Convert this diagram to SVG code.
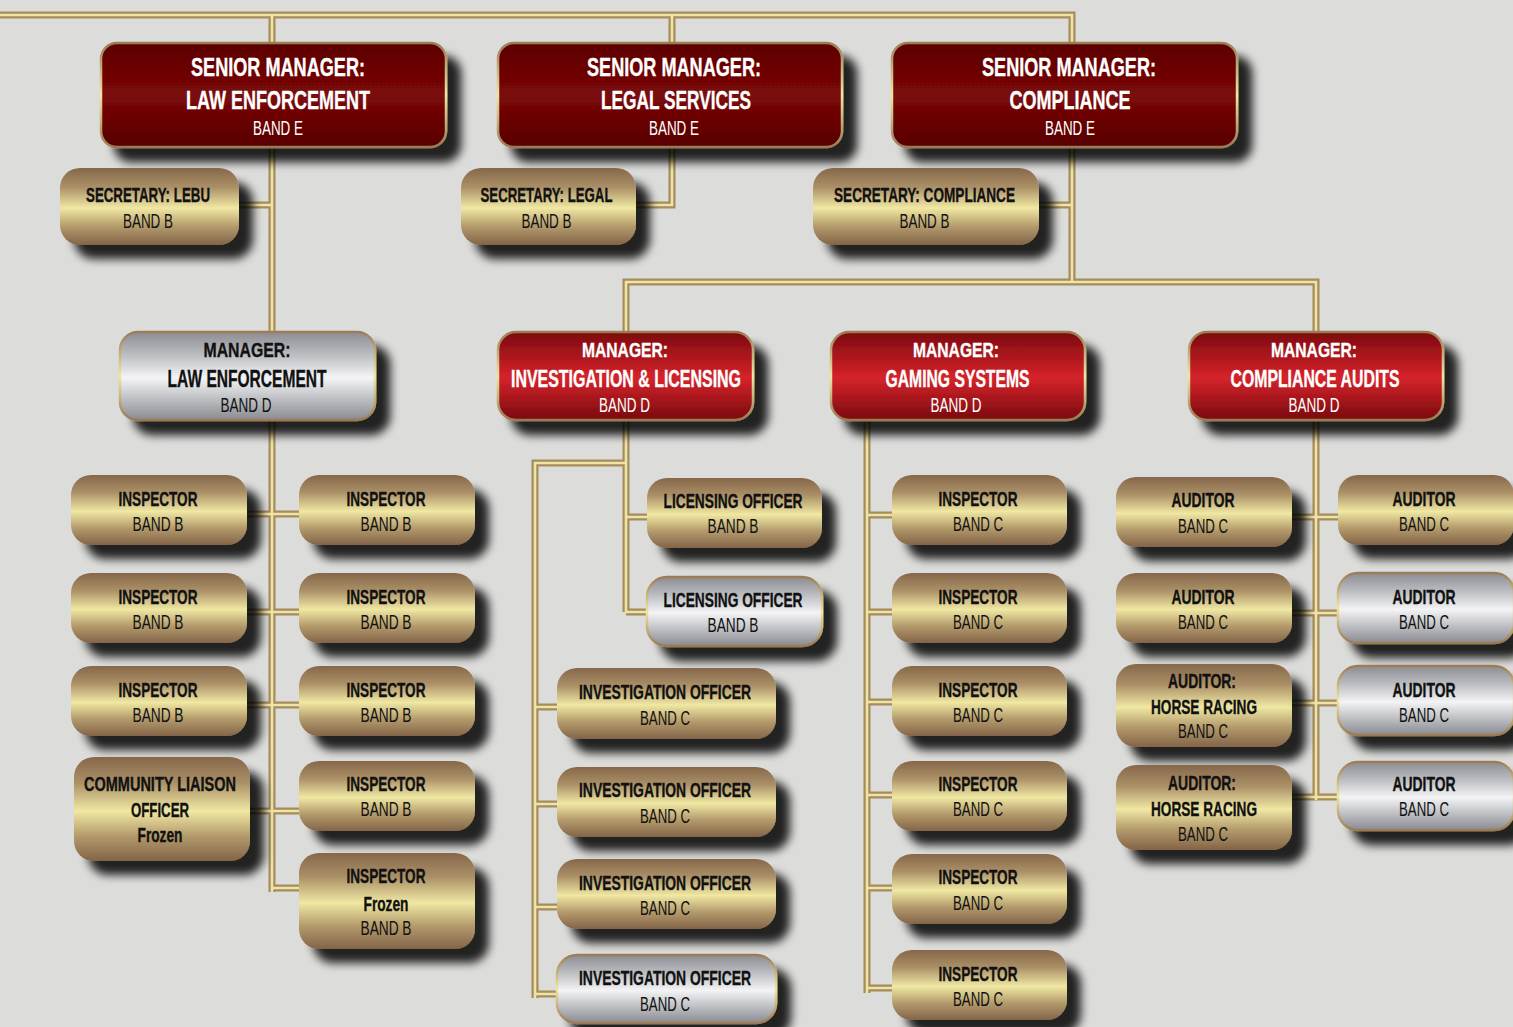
<svg xmlns="http://www.w3.org/2000/svg" xmlns:xlink="http://www.w3.org/1999/xlink" width="1513" height="1027" viewBox="0 0 1513 1027">
<defs>
<linearGradient id="gGold" x1="0" y1="0" x2="0" y2="1">
<stop offset="0" stop-color="#86674a"/><stop offset="0.25" stop-color="#ab9067"/><stop offset="0.52" stop-color="#f0e8a3"/><stop offset="0.76" stop-color="#b39a6b"/><stop offset="1" stop-color="#836448"/>
</linearGradient>
<linearGradient id="gSilver" x1="0" y1="0" x2="0" y2="1">
<stop offset="0" stop-color="#8b8d93"/><stop offset="0.25" stop-color="#b9bbbf"/><stop offset="0.52" stop-color="#f4f4f6"/><stop offset="0.76" stop-color="#bdbfc3"/><stop offset="1" stop-color="#898b91"/>
</linearGradient>
<linearGradient id="gRed" x1="0" y1="0" x2="0" y2="1">
<stop offset="0" stop-color="#7c090d"/><stop offset="0.52" stop-color="#d5232b"/><stop offset="1" stop-color="#790a0d"/>
</linearGradient>
<linearGradient id="gMaroon" x1="0" y1="0" x2="0" y2="1">
<stop offset="0" stop-color="#5c0000"/><stop offset="0.5" stop-color="#7b0808"/><stop offset="1" stop-color="#570000"/>
</linearGradient>
<linearGradient id="gEdge" x1="0" y1="0" x2="0" y2="1">
<stop offset="0" stop-color="#9c7b55"/><stop offset="0.5" stop-color="#efe6a0"/><stop offset="1" stop-color="#9a7953"/>
</linearGradient>
<filter id="sh" x="-10%" y="-20%" width="130%" height="170%">
<feGaussianBlur in="SourceAlpha" stdDeviation="5"/>
<feOffset dx="14" dy="14" result="o"/>
<feComponentTransfer><feFuncA type="linear" slope="0.85"/></feComponentTransfer>
<feMerge><feMergeNode/><feMergeNode in="SourceGraphic"/></feMerge>
</filter>
<path id="wires" d="M0,15 H1072 V282 M272,15 V892 M672,15 V205 H636 M239,205 H272 M1039,205 H1072 M626,340 V282 H1316 V800 M626,420 V612 M626,463 H535 V998 M626,517 H647 M626,612 H647 M535,707 H557 M535,804 H557 M535,907 H557 M535,994 H557 M867,420 V993 M867,515 H892 M867,612 H892 M867,702 H892 M867,795 H892 M867,888 H892 M867,988 H892 M247,514 H299 M247,612 H299 M247,705 H299 M250,811 H299 M272,888 H299 M1292,517 H1338 M1292,613 H1338 M1292,703 H1338 M1292,797 H1338"/>
</defs>
<style>
.box{filter:url(#sh)}
.gold{fill:url(#gGold)}
.silver{fill:url(#gSilver);stroke:url(#gEdge);stroke-width:2.5}
.red{fill:url(#gRed);stroke:url(#gEdge);stroke-width:2.5}
.maroon{fill:url(#gMaroon);stroke:url(#gEdge);stroke-width:2.5}
text{font-family:"Liberation Sans",Arial,sans-serif;text-anchor:middle;fill:#111}
.b{font-weight:bold;stroke:#111;stroke-width:0.35}
.w{fill:#fff}
.b.w{stroke:#fff}
.s26{font-size:26px}
.s23{font-size:23px}
.s21{font-size:21px}
.s19{font-size:19.5px}
.wo{fill:none;stroke:#a58c5c;stroke-width:7}
.wi{fill:none;stroke:#efe4a8;stroke-width:2.6}
</style>
<rect x="0" y="0" width="1513" height="1027" fill="#dcdcdb"/>

<g id="connectors">
<use xlink:href="#wires" class="wo"/>
<use xlink:href="#wires" class="wi"/>
</g>

<!-- Senior managers -->
<g id="sm-law"><rect class="box maroon" x="101" y="43" width="345" height="104" rx="16"/>
<text class="b w s26" x="278" y="76" textLength="174" lengthAdjust="spacingAndGlyphs">SENIOR MANAGER:</text>
<text class="b w s26" x="278" y="109" textLength="184" lengthAdjust="spacingAndGlyphs">LAW ENFORCEMENT</text>
<text class="w s19" x="278" y="135" textLength="50" lengthAdjust="spacingAndGlyphs">BAND E</text></g>
<g id="sm-legal"><rect class="box maroon" x="498" y="43" width="344" height="104" rx="16"/>
<text class="b w s26" x="674" y="76" textLength="174" lengthAdjust="spacingAndGlyphs">SENIOR MANAGER:</text>
<text class="b w s26" x="676" y="109" textLength="150" lengthAdjust="spacingAndGlyphs">LEGAL SERVICES</text>
<text class="w s19" x="674" y="135" textLength="50" lengthAdjust="spacingAndGlyphs">BAND E</text></g>
<g id="sm-compliance"><rect class="box maroon" x="892" y="43" width="345" height="104" rx="16"/>
<text class="b w s26" x="1069" y="76" textLength="174" lengthAdjust="spacingAndGlyphs">SENIOR MANAGER:</text>
<text class="b w s26" x="1070" y="109" textLength="121" lengthAdjust="spacingAndGlyphs">COMPLIANCE</text>
<text class="w s19" x="1070" y="135" textLength="50" lengthAdjust="spacingAndGlyphs">BAND E</text></g>

<!-- Secretaries -->
<g id="sec-lebu"><rect class="box gold" x="60" y="168" width="179" height="77" rx="20"/>
<text class="b s19" x="148" y="202" textLength="124" lengthAdjust="spacingAndGlyphs">SECRETARY: LEBU</text>
<text class="s19" x="148" y="228" textLength="50" lengthAdjust="spacingAndGlyphs">BAND B</text></g>
<g id="sec-legal"><rect class="box gold" x="461" y="168" width="175" height="77" rx="20"/>
<text class="b s19" x="546.5" y="202" textLength="132" lengthAdjust="spacingAndGlyphs">SECRETARY: LEGAL</text>
<text class="s19" x="546.5" y="228" textLength="50" lengthAdjust="spacingAndGlyphs">BAND B</text></g>
<g id="sec-compliance"><rect class="box gold" x="813" y="168" width="226" height="77" rx="20"/>
<text class="b s19" x="924.5" y="202" textLength="181" lengthAdjust="spacingAndGlyphs">SECRETARY: COMPLIANCE</text>
<text class="s19" x="924.5" y="228" textLength="50" lengthAdjust="spacingAndGlyphs">BAND B</text></g>

<!-- Managers -->
<g id="mgr-law"><rect class="box silver" x="120" y="332" width="255" height="88" rx="18"/>
<text class="b s21" x="247" y="357" textLength="87" lengthAdjust="spacingAndGlyphs">MANAGER:</text>
<text class="b s23" x="247" y="387" textLength="159" lengthAdjust="spacingAndGlyphs">LAW ENFORCEMENT</text>
<text class="s19" x="246" y="412" textLength="51" lengthAdjust="spacingAndGlyphs">BAND D</text></g>
<g id="mgr-inv"><rect class="box red" x="498" y="332" width="255" height="88" rx="18"/>
<text class="b w s21" x="625" y="357" textLength="86" lengthAdjust="spacingAndGlyphs">MANAGER:</text>
<text class="b w s23" x="626" y="387" textLength="230" lengthAdjust="spacingAndGlyphs">INVESTIGATION &amp; LICENSING</text>
<text class="w s19" x="624.5" y="412" textLength="51" lengthAdjust="spacingAndGlyphs">BAND D</text></g>
<g id="mgr-gaming"><rect class="box red" x="831" y="332" width="254" height="88" rx="18"/>
<text class="b w s21" x="956" y="357" textLength="86" lengthAdjust="spacingAndGlyphs">MANAGER:</text>
<text class="b w s23" x="957.5" y="387" textLength="144" lengthAdjust="spacingAndGlyphs">GAMING SYSTEMS</text>
<text class="w s19" x="956" y="412" textLength="51" lengthAdjust="spacingAndGlyphs">BAND D</text></g>
<g id="mgr-audits"><rect class="box red" x="1189" y="332" width="254" height="88" rx="18"/>
<text class="b w s21" x="1314" y="357" textLength="86" lengthAdjust="spacingAndGlyphs">MANAGER:</text>
<text class="b w s23" x="1315" y="387" textLength="169" lengthAdjust="spacingAndGlyphs">COMPLIANCE AUDITS</text>
<text class="w s19" x="1314" y="412" textLength="51" lengthAdjust="spacingAndGlyphs">BAND D</text></g>

<!-- Law enforcement staff, left column -->
<g id="le-insp-l1"><rect class="box gold" x="71" y="475" width="176" height="70" rx="20"/>
<text class="b s19" x="158" y="506" textLength="79" lengthAdjust="spacingAndGlyphs">INSPECTOR</text>
<text class="s19" x="158" y="531" textLength="51" lengthAdjust="spacingAndGlyphs">BAND B</text></g>
<g id="le-insp-l2"><rect class="box gold" x="71" y="573" width="176" height="70" rx="20"/>
<text class="b s19" x="158" y="604" textLength="79" lengthAdjust="spacingAndGlyphs">INSPECTOR</text>
<text class="s19" x="158" y="629" textLength="51" lengthAdjust="spacingAndGlyphs">BAND B</text></g>
<g id="le-insp-l3"><rect class="box gold" x="71" y="666" width="176" height="70" rx="20"/>
<text class="b s19" x="158" y="697" textLength="79" lengthAdjust="spacingAndGlyphs">INSPECTOR</text>
<text class="s19" x="158" y="722" textLength="51" lengthAdjust="spacingAndGlyphs">BAND B</text></g>
<g id="le-cla"><rect class="box gold" x="74" y="757" width="176" height="104" rx="20"/>
<text class="b s19" x="160" y="791" textLength="152" lengthAdjust="spacingAndGlyphs">COMMUNITY LIAISON</text>
<text class="b s19" x="160" y="817" textLength="58" lengthAdjust="spacingAndGlyphs">OFFICER</text>
<text class="b s19" x="160" y="842" textLength="45" lengthAdjust="spacingAndGlyphs">Frozen</text></g>

<!-- Law enforcement staff, right column -->
<g id="le-insp-r1"><rect class="box gold" x="299" y="475" width="176" height="70" rx="20"/>
<text class="b s19" x="386" y="506" textLength="79" lengthAdjust="spacingAndGlyphs">INSPECTOR</text>
<text class="s19" x="386" y="531" textLength="51" lengthAdjust="spacingAndGlyphs">BAND B</text></g>
<g id="le-insp-r2"><rect class="box gold" x="299" y="573" width="176" height="70" rx="20"/>
<text class="b s19" x="386" y="604" textLength="79" lengthAdjust="spacingAndGlyphs">INSPECTOR</text>
<text class="s19" x="386" y="629" textLength="51" lengthAdjust="spacingAndGlyphs">BAND B</text></g>
<g id="le-insp-r3"><rect class="box gold" x="299" y="666" width="176" height="70" rx="20"/>
<text class="b s19" x="386" y="697" textLength="79" lengthAdjust="spacingAndGlyphs">INSPECTOR</text>
<text class="s19" x="386" y="722" textLength="51" lengthAdjust="spacingAndGlyphs">BAND B</text></g>
<g id="le-insp-r4"><rect class="box gold" x="299" y="761" width="176" height="70" rx="20"/>
<text class="b s19" x="386" y="791" textLength="79" lengthAdjust="spacingAndGlyphs">INSPECTOR</text>
<text class="s19" x="386" y="816" textLength="51" lengthAdjust="spacingAndGlyphs">BAND B</text></g>
<g id="le-insp-r5"><rect class="box gold" x="299" y="853" width="176" height="96" rx="20"/>
<text class="b s19" x="386" y="883" textLength="79" lengthAdjust="spacingAndGlyphs">INSPECTOR</text>
<text class="b s19" x="386" y="911" textLength="45" lengthAdjust="spacingAndGlyphs">Frozen</text>
<text class="s19" x="386" y="935" textLength="51" lengthAdjust="spacingAndGlyphs">BAND B</text></g>

<!-- Investigation & licensing -->
<g id="lic-1"><rect class="box gold" x="647" y="478" width="175" height="70" rx="20"/>
<text class="b s19" x="733" y="508" textLength="139" lengthAdjust="spacingAndGlyphs">LICENSING OFFICER</text>
<text class="s19" x="733" y="533" textLength="51" lengthAdjust="spacingAndGlyphs">BAND B</text></g>
<g id="lic-2"><rect class="box silver" x="647" y="577" width="175" height="69" rx="20"/>
<text class="b s19" x="733" y="607" textLength="139" lengthAdjust="spacingAndGlyphs">LICENSING OFFICER</text>
<text class="s19" x="733" y="632" textLength="51" lengthAdjust="spacingAndGlyphs">BAND B</text></g>
<g id="inv-1"><rect class="box gold" x="557" y="668" width="219" height="71" rx="20"/>
<text class="b s19" x="665" y="699" textLength="172" lengthAdjust="spacingAndGlyphs">INVESTIGATION OFFICER</text>
<text class="s19" x="665" y="725" textLength="50" lengthAdjust="spacingAndGlyphs">BAND C</text></g>
<g id="inv-2"><rect class="box gold" x="557" y="767" width="219" height="70" rx="20"/>
<text class="b s19" x="665" y="797" textLength="172" lengthAdjust="spacingAndGlyphs">INVESTIGATION OFFICER</text>
<text class="s19" x="665" y="823" textLength="50" lengthAdjust="spacingAndGlyphs">BAND C</text></g>
<g id="inv-3"><rect class="box gold" x="557" y="859" width="219" height="70" rx="20"/>
<text class="b s19" x="665" y="890" textLength="172" lengthAdjust="spacingAndGlyphs">INVESTIGATION OFFICER</text>
<text class="s19" x="665" y="915" textLength="50" lengthAdjust="spacingAndGlyphs">BAND C</text></g>
<g id="inv-4"><rect class="box silver" x="557" y="955" width="219" height="68" rx="20"/>
<text class="b s19" x="665" y="985" textLength="172" lengthAdjust="spacingAndGlyphs">INVESTIGATION OFFICER</text>
<text class="s19" x="665" y="1011" textLength="50" lengthAdjust="spacingAndGlyphs">BAND C</text></g>

<!-- Gaming systems -->
<g id="gam-1"><rect class="box gold" x="892" y="475" width="175" height="70" rx="20"/>
<text class="b s19" x="978" y="506" textLength="79" lengthAdjust="spacingAndGlyphs">INSPECTOR</text>
<text class="s19" x="978" y="531" textLength="50" lengthAdjust="spacingAndGlyphs">BAND C</text></g>
<g id="gam-2"><rect class="box gold" x="892" y="573" width="175" height="70" rx="20"/>
<text class="b s19" x="978" y="604" textLength="79" lengthAdjust="spacingAndGlyphs">INSPECTOR</text>
<text class="s19" x="978" y="629" textLength="50" lengthAdjust="spacingAndGlyphs">BAND C</text></g>
<g id="gam-3"><rect class="box gold" x="892" y="666" width="175" height="70" rx="20"/>
<text class="b s19" x="978" y="697" textLength="79" lengthAdjust="spacingAndGlyphs">INSPECTOR</text>
<text class="s19" x="978" y="722" textLength="50" lengthAdjust="spacingAndGlyphs">BAND C</text></g>
<g id="gam-4"><rect class="box gold" x="892" y="761" width="175" height="70" rx="20"/>
<text class="b s19" x="978" y="791" textLength="79" lengthAdjust="spacingAndGlyphs">INSPECTOR</text>
<text class="s19" x="978" y="816" textLength="50" lengthAdjust="spacingAndGlyphs">BAND C</text></g>
<g id="gam-5"><rect class="box gold" x="892" y="854" width="175" height="70" rx="20"/>
<text class="b s19" x="978" y="884" textLength="79" lengthAdjust="spacingAndGlyphs">INSPECTOR</text>
<text class="s19" x="978" y="910" textLength="50" lengthAdjust="spacingAndGlyphs">BAND C</text></g>
<g id="gam-6"><rect class="box gold" x="892" y="950" width="175" height="70" rx="20"/>
<text class="b s19" x="978" y="981" textLength="79" lengthAdjust="spacingAndGlyphs">INSPECTOR</text>
<text class="s19" x="978" y="1006" textLength="50" lengthAdjust="spacingAndGlyphs">BAND C</text></g>

<!-- Compliance audits, left column -->
<g id="aud-l1"><rect class="box gold" x="1116" y="477" width="176" height="70" rx="20"/>
<text class="b s19" x="1203" y="507" textLength="63" lengthAdjust="spacingAndGlyphs">AUDITOR</text>
<text class="s19" x="1203" y="533" textLength="50" lengthAdjust="spacingAndGlyphs">BAND C</text></g>
<g id="aud-l2"><rect class="box gold" x="1116" y="573" width="176" height="70" rx="20"/>
<text class="b s19" x="1203" y="604" textLength="63" lengthAdjust="spacingAndGlyphs">AUDITOR</text>
<text class="s19" x="1203" y="629" textLength="50" lengthAdjust="spacingAndGlyphs">BAND C</text></g>
<g id="aud-l3"><rect class="box gold" x="1116" y="664" width="176" height="83" rx="20"/>
<text class="b s19" x="1202" y="688" textLength="68" lengthAdjust="spacingAndGlyphs">AUDITOR:</text>
<text class="b s19" x="1204" y="714" textLength="106" lengthAdjust="spacingAndGlyphs">HORSE RACING</text>
<text class="s19" x="1203" y="738" textLength="50" lengthAdjust="spacingAndGlyphs">BAND C</text></g>
<g id="aud-l4"><rect class="box gold" x="1116" y="765" width="176" height="85" rx="20"/>
<text class="b s19" x="1202" y="790" textLength="68" lengthAdjust="spacingAndGlyphs">AUDITOR:</text>
<text class="b s19" x="1204" y="816" textLength="106" lengthAdjust="spacingAndGlyphs">HORSE RACING</text>
<text class="s19" x="1203" y="841" textLength="50" lengthAdjust="spacingAndGlyphs">BAND C</text></g>

<!-- Compliance audits, right column -->
<g id="aud-r1"><rect class="box gold" x="1338" y="475" width="176" height="70" rx="20"/>
<text class="b s19" x="1424" y="506" textLength="63" lengthAdjust="spacingAndGlyphs">AUDITOR</text>
<text class="s19" x="1424" y="531" textLength="50" lengthAdjust="spacingAndGlyphs">BAND C</text></g>
<g id="aud-r2"><rect class="box silver" x="1338" y="573" width="176" height="70" rx="20"/>
<text class="b s19" x="1424" y="604" textLength="63" lengthAdjust="spacingAndGlyphs">AUDITOR</text>
<text class="s19" x="1424" y="629" textLength="50" lengthAdjust="spacingAndGlyphs">BAND C</text></g>
<g id="aud-r3"><rect class="box silver" x="1338" y="666" width="176" height="69" rx="20"/>
<text class="b s19" x="1424" y="697" textLength="63" lengthAdjust="spacingAndGlyphs">AUDITOR</text>
<text class="s19" x="1424" y="722" textLength="50" lengthAdjust="spacingAndGlyphs">BAND C</text></g>
<g id="aud-r4"><rect class="box silver" x="1338" y="762" width="176" height="68" rx="20"/>
<text class="b s19" x="1424" y="791" textLength="63" lengthAdjust="spacingAndGlyphs">AUDITOR</text>
<text class="s19" x="1424" y="816" textLength="50" lengthAdjust="spacingAndGlyphs">BAND C</text></g>
</svg>
